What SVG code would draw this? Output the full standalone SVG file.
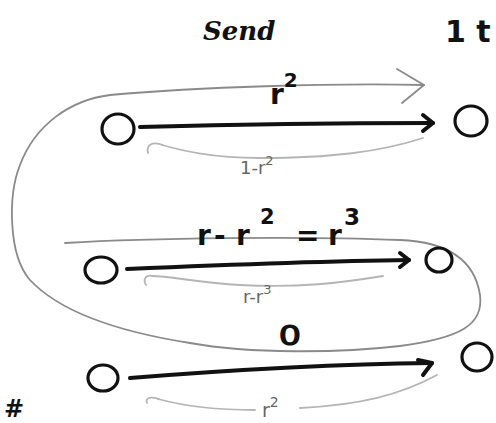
<svg xmlns="http://www.w3.org/2000/svg" width="496" height="423" viewBox="0 0 496 423">
<style>
.node{fill:none;stroke:#111;stroke-width:3.2}
.fwd{fill:none;stroke:#111;stroke-width:4;stroke-linecap:round;stroke-linejoin:round}
.loop{fill:none;stroke:#8a8a8a;stroke-width:1.8;stroke-linecap:round;stroke-linejoin:round}
.ret{fill:none;stroke:#b5b5b5;stroke-width:1.8;stroke-linecap:round}
.big{font-family:"DejaVu Sans",sans-serif;font-weight:bold;fill:#111}
.small{font-family:"DejaVu Sans",sans-serif;fill:#666}
.hand{font-family:"DejaVu Serif",serif;font-style:italic;font-weight:bold;fill:#111}
</style>
<rect width="496" height="423" fill="#fff"/>
<g id="connectors">
  <path class="loop" d="M65,243 C150,238 300,236 400,240 C450,242 475,262 480,295 C484,325 460,338 400,346 C340,353 250,354 190,343 C120,332 60,312 30,280 C8,255 8,195 20,165 C35,125 70,100 110,95 C200,87 330,83 424,85"/>
  <path class="loop" d="M397,69 L424,85 L402,103"/>
  <path class="fwd" d="M140,127 C250,124 350,123 433,123"/>
  <path class="fwd" d="M423,115 L433,123 L423,131"/>
  <path class="fwd" d="M127,269 C220,265 330,261 409,260"/>
  <path class="fwd" d="M400,253 L409,260 L400,267"/>
  <path class="fwd" d="M130,378 C230,370 340,364 432,363"/>
  <path class="fwd" d="M418,360 L432,363 L423,375"/>
  <path class="ret" d="M423,138 C380,152 330,158 260,158 C210,158 180,150 162,145"/>
  <path class="ret" d="M163,145 C152,141 146,145 148,153"/>
  <path class="ret" d="M383,276 C340,283 300,288 240,285 C200,283 170,276 152,276"/>
  <path class="ret" d="M153,276 C145,274 143,280 146,285"/>
  <path class="ret" d="M437,375 C400,395 360,405 300,408"/>
  <path class="ret" d="M255,410 C210,410 180,405 158,399"/>
  <path class="ret" d="M159,399 C150,396 145,398 147,403"/>
</g>
<g id="n1"><ellipse class="node" cx="118" cy="129" rx="16" ry="15"/></g>
<g id="n2"><ellipse class="node" cx="471" cy="121" rx="16" ry="15"/></g>
<g id="n3"><ellipse class="node" cx="101" cy="270" rx="16" ry="13"/></g>
<g id="n4"><ellipse class="node" cx="439" cy="260" rx="13" ry="12"/></g>
<g id="n5"><ellipse class="node" cx="103" cy="378" rx="15" ry="13"/></g>
<g id="n6"><ellipse class="node" cx="477" cy="357" rx="15" ry="14"/></g>
<g id="labels">
  <text class="hand" x="203" y="40" font-size="26">Send</text>
  <text class="big" x="445" y="42" font-size="30">1 t</text>
  <text class="big" x="270" y="104" font-size="28">r<tspan font-size="20" dy="-17">2</tspan></text>
  <text class="small" x="240" y="174" font-size="18">1-r<tspan font-size="13" dy="-9">2</tspan></text>
  <text class="big" font-size="28"><tspan x="197" y="245">r</tspan><tspan x="214" y="245">-</tspan><tspan x="236" y="245">r</tspan><tspan x="260" y="224" font-size="21">2</tspan><tspan x="296" y="245">=</tspan><tspan x="328" y="245">r</tspan><tspan x="344" y="225" font-size="23">3</tspan></text>
  <text class="small" x="243" y="303" font-size="18">r-r<tspan font-size="13" dy="-9">3</tspan></text>
  <text x="290" y="345" font-size="27" text-anchor="middle" style="font-family:'DejaVu Sans',sans-serif;fill:#111;stroke:#111;stroke-width:1.2" transform="translate(290 0) scale(1.3 1) translate(-290 0)">0</text>
  <text class="small" x="262" y="417" font-size="19">r<tspan font-size="14" dy="-10">2</tspan></text>
  <text class="hand" x="4" y="417" font-size="24">#</text>
</g>
</svg>
